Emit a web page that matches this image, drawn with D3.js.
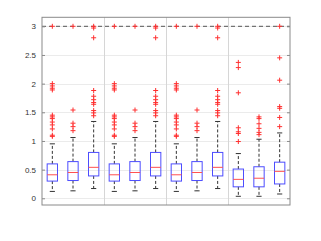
<!DOCTYPE html>
<html>
<head>
<meta charset="UTF-8">
<script src="https://d3js.org/d3.v7.min.js"></script>
<style>
  body { margin: 0; background: #fff; }
  svg { display: block; font-family: "DejaVu Sans", Arial, sans-serif; }
</style>
</head>
<body>
<svg id="chart" width="321" height="241"></svg>
<script>
// box statistics, one entry per box (x = 1..12)
const positions = [1, 2, 3, 4, 5, 6, 7, 8, 9, 10, 11, 12];
const whiskerLow = [0.12, 0.13, 0.17, 0.12, 0.13, 0.17, 0.12, 0.13, 0.17, 0.035, 0.035, 0.075];
const quartile1 = [0.30, 0.31, 0.39, 0.30, 0.31, 0.39, 0.30, 0.31, 0.39, 0.20, 0.20, 0.25];
const medians = [0.41, 0.45, 0.54, 0.41, 0.45, 0.54, 0.41, 0.45, 0.54, 0.33, 0.35, 0.47];
const quartile3 = [0.60, 0.64, 0.80, 0.60, 0.64, 0.80, 0.60, 0.64, 0.80, 0.51, 0.55, 0.63];
const whiskerHigh = [0.95, 1.06, 1.34, 0.95, 1.06, 1.34, 0.95, 1.06, 1.34, 0.78, 1.03, 1.14];
const outliers = [
  [3.0, 2.0, 1.96, 1.92, 1.89, 1.45, 1.42, 1.39, 1.33, 1.28, 1.21, 1.10, 1.08],
  [3.0, 1.54, 1.31, 1.25, 1.18],
  [3.0, 2.97, 2.80, 1.88, 1.78, 1.72, 1.67, 1.64, 1.53, 1.49, 1.44],
  [3.0, 2.0, 1.96, 1.92, 1.89, 1.45, 1.42, 1.39, 1.33, 1.28, 1.21, 1.10, 1.08],
  [3.0, 1.54, 1.31, 1.25, 1.18],
  [3.0, 2.97, 2.80, 1.88, 1.78, 1.72, 1.67, 1.64, 1.53, 1.49, 1.44],
  [3.0, 2.0, 1.96, 1.92, 1.89, 1.45, 1.42, 1.39, 1.33, 1.28, 1.21, 1.10, 1.08],
  [3.0, 1.54, 1.31, 1.25, 1.18],
  [3.0, 2.97, 2.80, 1.88, 1.78, 1.72, 1.67, 1.64, 1.53, 1.49, 1.44],
  [2.37, 2.28, 1.84, 1.23, 1.16, 1.13, 0.99],
  [1.42, 1.39, 1.30, 1.22, 1.15, 1.11],
  [3.0, 2.45, 2.06, 1.60, 1.57, 1.41, 1.25]
];
const yTicks = [0, 0.5, 1, 1.5, 2, 2.5, 3];
const groupSeparators = [3.5, 6.5, 9.5];
const refLine = 3;

const svg = d3.select("#chart");
const plotLeft = 42, plotRight = 290, plotTop = 17.3, plotBottom = 205;

const x = d3.scaleLinear().domain([0.5, 12.5]).range([plotLeft, plotRight]);
const y = d3.scaleLinear().domain([-0.117, 3.157]).range([plotBottom, plotTop]);

const boxW = (x(1.25) - x(0.75));
const capW = (x(1.125) - x(0.875));

// horizontal grid
svg.append("g").selectAll("line")
  .data(yTicks).join("line")
  .attr("x1", plotLeft).attr("x2", plotRight)
  .attr("y1", d => Math.round(y(d)) + 0.5).attr("y2", d => Math.round(y(d)) + 0.5)
  .attr("stroke", "#ebebeb").attr("stroke-width", 1);

// group separators
svg.append("g").selectAll("line")
  .data(groupSeparators).join("line")
  .attr("x1", d => Math.round(x(d)) + 0.5).attr("x2", d => Math.round(x(d)) + 0.5)
  .attr("y1", plotTop).attr("y2", plotBottom)
  .attr("stroke", "#d6d6d6").attr("stroke-width", 1);

// reference dashed line
svg.append("line")
  .attr("x1", plotLeft).attr("x2", plotRight)
  .attr("y1", y(refLine)).attr("y2", y(refLine))
  .attr("stroke", "#555").attr("stroke-width", 1)
  .attr("stroke-dasharray", "4,3");

// boxes
const boxes = svg.append("g").selectAll("g")
  .data(positions.map((p, i) => ({ p, i }))).join("g");

// whiskers (dashed)
boxes.append("line")
  .attr("x1", d => x(d.p)).attr("x2", d => x(d.p))
  .attr("y1", d => y(quartile3[d.i])).attr("y2", d => y(whiskerHigh[d.i]))
  .attr("stroke", "#333").attr("stroke-dasharray", "3,2");
boxes.append("line")
  .attr("x1", d => x(d.p)).attr("x2", d => x(d.p))
  .attr("y1", d => y(quartile1[d.i])).attr("y2", d => y(whiskerLow[d.i]))
  .attr("stroke", "#333").attr("stroke-dasharray", "3,2");
// caps
boxes.append("line")
  .attr("x1", d => x(d.p) - capW / 2).attr("x2", d => x(d.p) + capW / 2)
  .attr("y1", d => y(whiskerHigh[d.i])).attr("y2", d => y(whiskerHigh[d.i]))
  .attr("stroke", "#333");
boxes.append("line")
  .attr("x1", d => x(d.p) - capW / 2).attr("x2", d => x(d.p) + capW / 2)
  .attr("y1", d => y(whiskerLow[d.i])).attr("y2", d => y(whiskerLow[d.i]))
  .attr("stroke", "#333");
// box
boxes.append("rect")
  .attr("x", d => x(d.p) - boxW / 2).attr("width", boxW)
  .attr("y", d => y(quartile3[d.i]))
  .attr("height", d => y(quartile1[d.i]) - y(quartile3[d.i]))
  .attr("fill", "none").attr("stroke", "#4d4dff").attr("stroke-width", 1);
// median
boxes.append("line")
  .attr("x1", d => x(d.p) - boxW / 2).attr("x2", d => x(d.p) + boxW / 2)
  .attr("y1", d => y(medians[d.i])).attr("y2", d => y(medians[d.i]))
  .attr("stroke", "#ff5050").attr("stroke-width", 1);
// outliers
boxes.each(function (d) {
  d3.select(this).selectAll("path")
    .data(outliers[d.i]).join("path")
    .attr("transform", v => `translate(${x(d.p)},${y(v)})`)
    .attr("d", "M-2.5,0H2.5M0,-2.5V2.5")
    .attr("stroke", "#ff3030").attr("stroke-width", 1)
    .attr("fill", "none");
});

// axes box
svg.append("rect")
  .attr("x", plotLeft).attr("y", plotTop)
  .attr("width", plotRight - plotLeft).attr("height", plotBottom - plotTop)
  .attr("fill", "none").attr("stroke", "#8a8a8a").attr("stroke-width", 1);

// left axis
const yAxis = d3.axisLeft(y).tickValues(yTicks).tickSizeInner(-3).tickSizeOuter(0)
  .tickPadding(6).tickFormat(d3.format("~g"));
const ga = svg.append("g").attr("transform", `translate(${plotLeft},0)`).call(yAxis);
ga.select(".domain").remove();
ga.selectAll("line").attr("stroke", "#8a8a8a");
ga.selectAll("text").attr("fill", "#333").attr("font-size", 8);

// right axis ticks
const yAxisR = d3.axisRight(y).tickValues(yTicks).tickSizeInner(-3).tickSizeOuter(0)
  .tickFormat("");
const gr = svg.append("g").attr("transform", `translate(${plotRight},0)`).call(yAxisR);
gr.select(".domain").remove();
gr.selectAll("line").attr("stroke", "#8a8a8a");
</script>
</body>
</html>
